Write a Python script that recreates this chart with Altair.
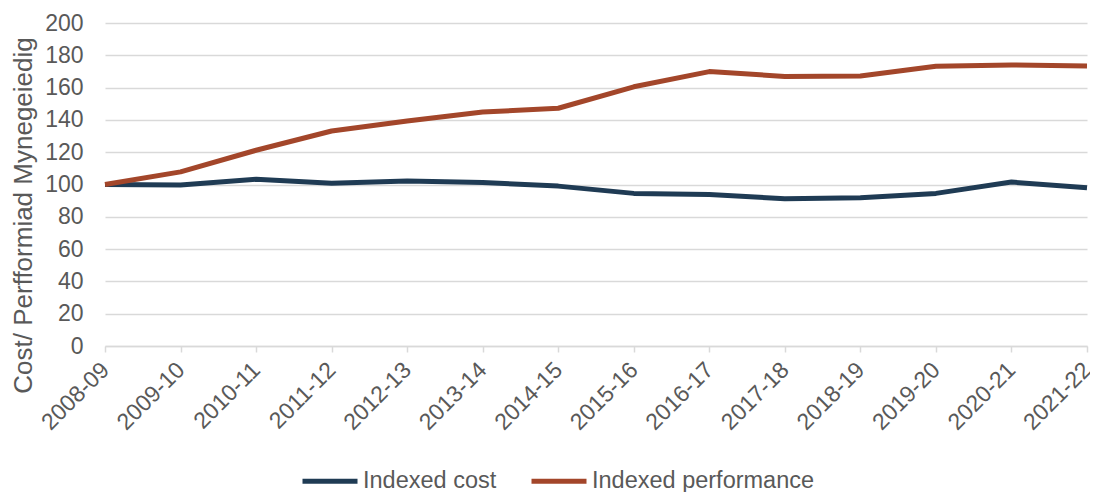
import altair as alt
import pandas as pd

years = ["2008-09", "2009-10", "2010-11", "2011-12", "2012-13", "2013-14", "2014-15",
         "2015-16", "2016-17", "2017-18", "2018-19", "2019-20", "2020-21", "2021-22"]
indexed_cost = [100, 99.7, 103.2, 100.8, 102.2, 101.3, 99.0, 94.5, 93.8, 91.2, 91.8, 94.5, 101.5, 98.0]
indexed_perf = [100, 107.8, 121.2, 133.1, 139.3, 144.9, 147.2, 160.5, 169.9, 166.9, 167.2, 173.2, 174.0, 173.4]

series_names = ["Indexed cost", "Indexed performance"]
series_colors = ["#1F3B54", "#A3462A"]

rows = []
for name, vals in zip(series_names, [indexed_cost, indexed_perf]):
    for y, v in zip(years, vals):
        rows.append({"year": y, "value": v, "series": name})
df = pd.DataFrame(rows)

FONT = "Liberation Sans"
GREY = "#595959"

chart = alt.Chart(df).mark_line(strokeWidth=5, strokeCap="butt", strokeJoin="round").encode(
    x=alt.X("year:N", sort=years, scale=alt.Scale(type="point", padding=0),
            axis=alt.Axis(title=None, labelAngle=-45, labelAlign="right", labelBaseline="middle",
                          labelFontSize=23, labelColor=GREY,
                          labelFont=FONT, domainColor="#D9D9D9", domainWidth=1.5,
                          tickColor="#D9D9D9", tickSize=6, tickWidth=1.5, labelPadding=14,
                          labelBound=False, labelOverlap=False, grid=False)),
    y=alt.Y("value:Q", scale=alt.Scale(domain=[0, 200], nice=False),
            axis=alt.Axis(values=list(range(0, 201, 20)), title="Cost/ Perfformiad Mynegeiedig",
                          titleFontSize=26, titleFont=FONT, titleColor=GREY, titleFontWeight="normal",
                          labelFontSize=23, labelFont=FONT, labelColor=GREY, labelPadding=22,
                          ticks=False, domain=False, gridColor="#D9D9D9", gridWidth=1.5,
                          titleX=-82, titleY=192, titleAngle=-90, titleBaseline="middle",
                          titleAlign="center")),
    color=alt.Color("series:N", scale=alt.Scale(domain=series_names, range=series_colors),
                    legend=alt.Legend(title=None, orient="none", direction="horizontal",
                                      legendX=195, legendY=428, padding=0, symbolType="stroke",
                                      symbolSize=3025, symbolStrokeWidth=5,
                                      labelFontSize=23.5, labelFont=FONT, labelColor=GREY,
                                      labelOffset=3, columnPadding=24, labelLimit=0)),
).properties(
    width=982, height=323,
    autosize=alt.AutoSizeParams(type="none"),
    padding={"left": 97, "top": 15, "right": 3, "bottom": 152},
).configure_view(stroke=None)

chart.save("out.html", embed_options={"renderer": "svg", "actions": False})
